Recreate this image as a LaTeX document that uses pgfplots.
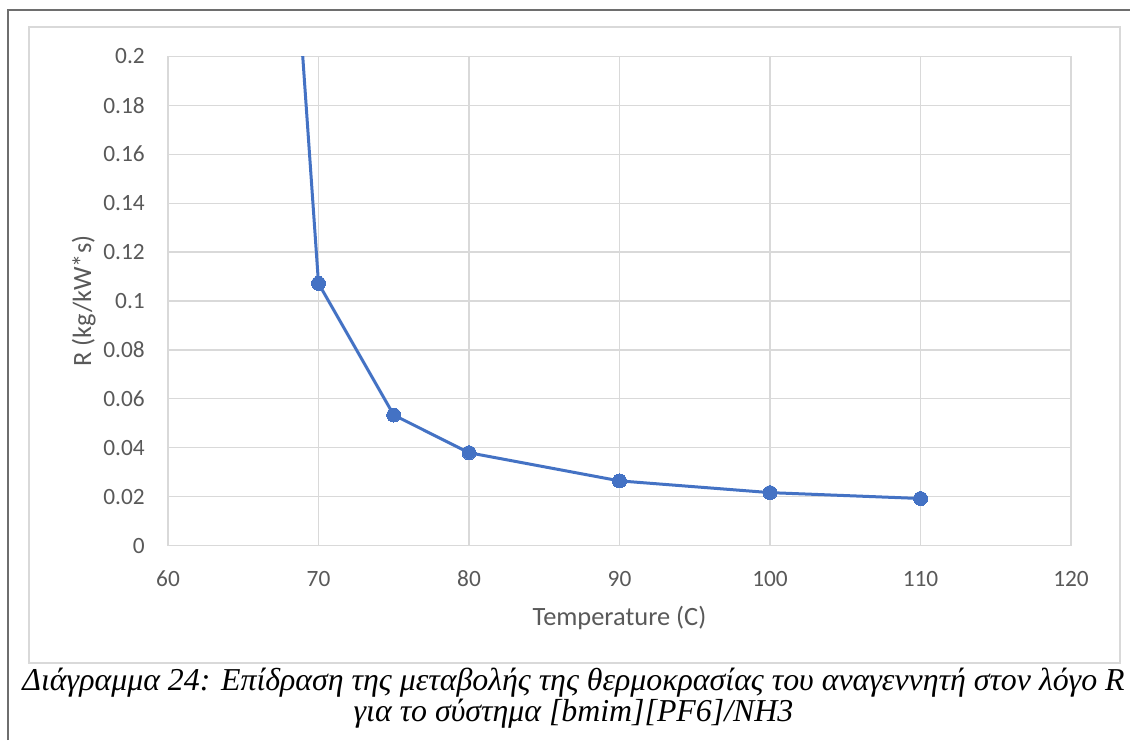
\documentclass[border=0pt]{standalone}
\usepackage{fontspec}
\setmainfont{Liberation Serif}
\newfontfamily\calibri{Carlito}
\usepackage{pgfplots}
\pgfplotsset{compat=1.18}
\definecolor{excelblue}{HTML}{4472C4}
\definecolor{gridgray}{HTML}{D9D9D9}
\definecolor{axgray}{HTML}{BFBFBF}
\definecolor{txtgray}{HTML}{595959}
\definecolor{framegray}{HTML}{6E6E6E}
\begin{document}
\begin{tikzpicture}[x=0.75pt,y=0.75pt]
\useasboundingbox (0,0) rectangle (1130,740);
\fill[white] (0,0) rectangle (1130,740);
\draw[framegray, line width=1.1pt] (8,0) -- (8,730) -- (1131,730);
\draw[gridgray, line width=0.9pt] (29,77) rectangle (1120,713);
\begin{axis}[
  at={(126pt,145.7pt)}, anchor=south west,
  scale only axis, width=677.25pt, height=367.1pt,
  xmin=60, xmax=120, ymin=0, ymax=0.2,
  xtick={60,70,80,90,100,110,120},
  ytick={0,0.02,0.04,0.06,0.08,0.1,0.12,0.14,0.16,0.18,0.2},
  scaled y ticks=false,
  yticklabel style={/pgf/number format/fixed, /pgf/number format/precision=2},
  /pgf/number format/assume math mode=true,
  major tick length=0pt,
  grid=major,
  major grid style={gridgray, line width=0.9pt},
  axis line style={gridgray, line width=0.9pt},
  tick label style={font=\calibri\fontsize{17.5}{20}\selectfont, text=txtgray, inner sep=0pt},
  yticklabel style={anchor=east, xshift=-17.25pt},
  xticklabel style={anchor=north, yshift=-18.75pt},
  label style={font=\calibri\fontsize{19.8}{23}\selectfont, text=txtgray, inner sep=0pt},
  xlabel={Temperature (C)},
  ylabel={R (kg/kW*s)},
  xlabel style={at={(axis description cs:0.5,-0.1634)}, anchor=base},
  ylabel style={at={(axis description cs:-0.08527,0.5)}, anchor=base, rotate=0},
  clip mode=global,
]
\addplot[excelblue, line width=2.25pt, mark=*, mark size=5.25pt, mark options={fill=excelblue, draw=excelblue, line width=0pt}]
  coordinates {(65,0.55) (70,0.1072) (75,0.0534) (80,0.0380) (90,0.0265) (100,0.0217) (110,0.0193)};
\end{axis}
\node[anchor=base, inner sep=0pt, font=\itshape\fontsize{23.9}{28}\selectfont] at (573.5,50) {Διάγραμμα 24: Επίδραση της μεταβολής της θερμοκρασίας του αναγεννητή στον λόγο R};
\node[anchor=base, inner sep=0pt, font=\itshape\fontsize{23.9}{28}\selectfont] at (573.5,19) {για το σύστημα [bmim][PF6]/NH3};
\end{tikzpicture}
\end{document}
